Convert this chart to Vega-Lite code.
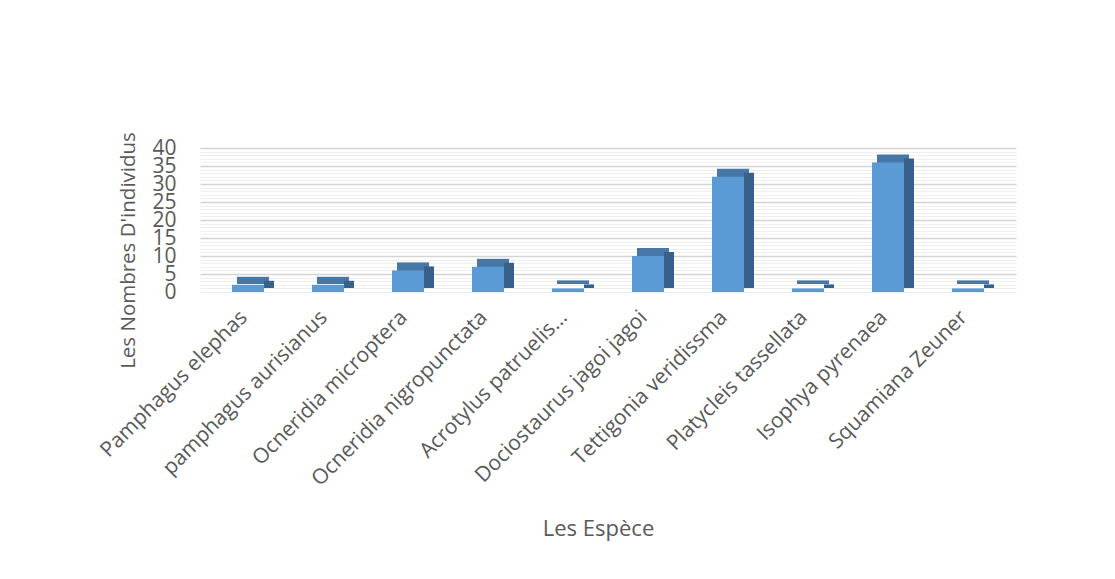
{
  "$schema": "https://vega.github.io/schema/vega-lite/v6.json",
  "autosize": {"type": "none"},
  "width": 816,
  "height": 144,
  "padding": {"left": 200, "top": 148, "right": 99, "bottom": 287},
  "background": "white",
  "config": {
    "view": {"stroke": null},
    "font": "Open Sans",
    "axis": {"labelColor": "#595959", "titleColor": "#595959", "titleFontWeight": "normal"}
  },
  "data": {
    "values": [
      {"espece": "Pamphagus elephas", "n": 2},
      {"espece": "pamphagus aurisianus", "n": 2},
      {"espece": "Ocneridia microptera", "n": 6},
      {"espece": "Ocneridia nigropunctata", "n": 7},
      {"espece": "Acrotylus patruelis…", "n": 1},
      {"espece": "Dociostaurus jagoi jagoi", "n": 10},
      {"espece": "Tettigonia veridissma", "n": 32},
      {"espece": "Platycleis tassellata", "n": 1},
      {"espece": "Isophya pyrenaea", "n": 36},
      {"espece": "Squamiana Zeuner", "n": 1}
    ]
  },
  "encoding": {
    "x": {
      "field": "espece", "type": "nominal", "sort": null,
      "scale": {"paddingInner": 0.6, "paddingOuter": 0.4},
      "axis": {
        "title": "Les Espèce", "titleFontSize": 22, "titleX": 398, "titleY": 236,
        "titleBaseline": "middle", "titleAnchor": "middle",
        "labelAngle": -45, "labelAlign": "right", "labelBaseline": "middle",
        "labelFontSize": 21, "labelPadding": 22, "labelOffset": -4, "ticks": false, "domain": false,
        "labelOverlap": false, "labelLimit": 400
      }
    },
    "y": {
      "field": "n", "type": "quantitative",
      "scale": {"domain": [0, 40], "nice": false},
      "axis": {
        "title": "Les Nombres D'individus", "titleFontSize": 20.5,
        "titleX": -72, "titleY": 102, "titleAngle": -90, "titleAlign": "center", "titleBaseline": "middle",
        "values": [0,1,2,3,4,5,6,7,8,9,10,11,12,13,14,15,16,17,18,19,20,21,22,23,24,25,26,27,28,29,30,31,32,33,34,35,36,37,38,39,40],
        "labelExpr": "datum.value % 5 === 0 ? datum.label : ''",
        "labelFontSize": 21, "labelPadding": 24, "ticks": false, "domain": false,
        "labelOverlap": false,
        "grid": true,
        "gridColor": {"condition": {"test": "datum.value % 5 === 0 && datum.value > 0", "value": "#d4d4d4"}, "value": "#efefef"},
        "gridWidth": {"condition": {"test": "datum.value % 5 === 0", "value": 1.5}, "value": 1}
      }
    }
  },
  "layer": [
    {
      "mark": {"type": "bar", "color": "#4677a7", "xOffset": 5, "yOffset": -8, "y2Offset": -8},
      "encoding": {"y2": {"datum": 0}}
    },
    {
      "mark": {"type": "bar", "color": "#37608a", "width": 10, "xOffset": 21, "yOffset": -4, "y2Offset": -4},
      "encoding": {"y2": {"datum": 0}}
    },
    {
      "mark": {"type": "bar", "color": "#5b9bd5"},
      "encoding": {"y2": {"datum": 0}}
    }
  ]
}
